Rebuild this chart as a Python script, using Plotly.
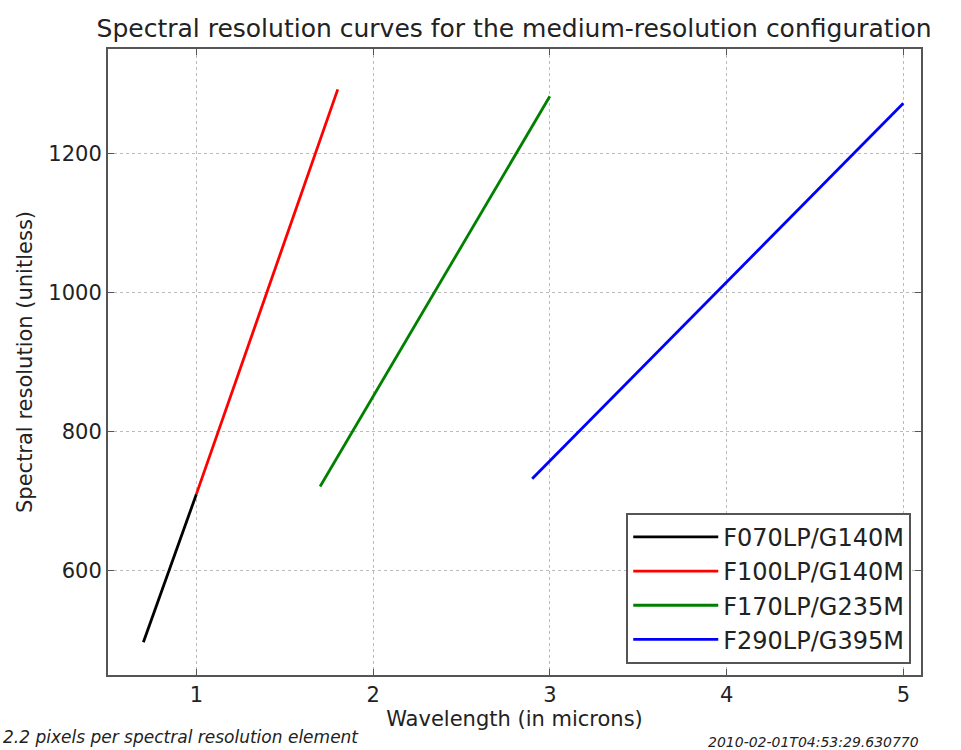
import plotly.graph_objects as go

# Spectral resolution curves, one per filter/grating pair
names = ["F070LP/G140M", "F100LP/G140M", "F170LP/G235M", "F290LP/G395M"]
colors = ["#000000", "#ff0000", "#008000", "#0000ff"]
wavelengths = [
    [0.70, 1.00],
    [1.00, 1.80],
    [1.70, 3.00],
    [2.90, 5.00],
]
resolutions = [
    [497, 710],
    [710, 1292],
    [721, 1282],
    [732, 1272],
]

x_ticks = [1, 2, 3, 4, 5]
y_ticks = [600, 800, 1000, 1200]

font_main = "DejaVu Sans"

fig = go.Figure()
for name, color, wl, res in zip(names, colors, wavelengths, resolutions):
    fig.add_trace(go.Scatter(
        x=wl, y=res, mode="lines", name=name,
        line=dict(color=color, width=2.8),
    ))

axis_common = dict(
    showline=True, linecolor="#555555", linewidth=2, mirror="ticks",
    ticks="inside", ticklen=6, tickcolor="#555555", tickwidth=1,
    showgrid=True, gridcolor="#bbbbbb", griddash="dot", gridwidth=1,
    zeroline=False,
    tickfont=dict(family=font_main, size=21, color="#222222"),
)

fig.update_layout(
    width=961, height=750,
    paper_bgcolor="white", plot_bgcolor="white",
    margin=dict(l=108, r=40, t=49, b=75),
    title=dict(
        text="Spectral resolution curves for the medium-resolution configuration",
        x=0.535, xanchor="center", y=0.963, yanchor="middle",
        font=dict(family=font_main, size=25, color="#222222"),
    ),
    xaxis=dict(
        range=[0.5, 5.1], tickvals=x_ticks,
        title=dict(text="Wavelength (in microns)", standoff=0,
                   font=dict(family=font_main, size=21, color="#222222")),
        **axis_common,
    ),
    yaxis=dict(
        range=[450, 1350], tickvals=y_ticks,
        title=dict(text="Spectral resolution (unitless)", standoff=10,
                   font=dict(family=font_main, size=21, color="#222222")),
        **axis_common,
    ),
    legend=dict(
        x=0.988, y=0.018, xanchor="right", yanchor="bottom",
        bgcolor="white", bordercolor="#555555", borderwidth=2,
        font=dict(family=font_main, size=24, color="#222222"),
        itemwidth=85,
    ),
    showlegend=True,
)

fig.add_annotation(
    text="<i>2.2 pixels per spectral resolution element</i>",
    xref="paper", yref="paper", x=0, y=0, xshift=-107, yshift=-50,
    xanchor="left", yanchor="top", showarrow=False,
    font=dict(family=font_main, size=17, color="#222222"),
)
fig.add_annotation(
    text="<i>2010-02-01T04:53:29.630770</i>",
    xref="paper", yref="paper", x=1, y=0, xshift=0, yshift=-57,
    xanchor="right", yanchor="top", showarrow=False,
    font=dict(family=font_main, size=14, color="#222222"),
)

fig.write_html("out.html")
